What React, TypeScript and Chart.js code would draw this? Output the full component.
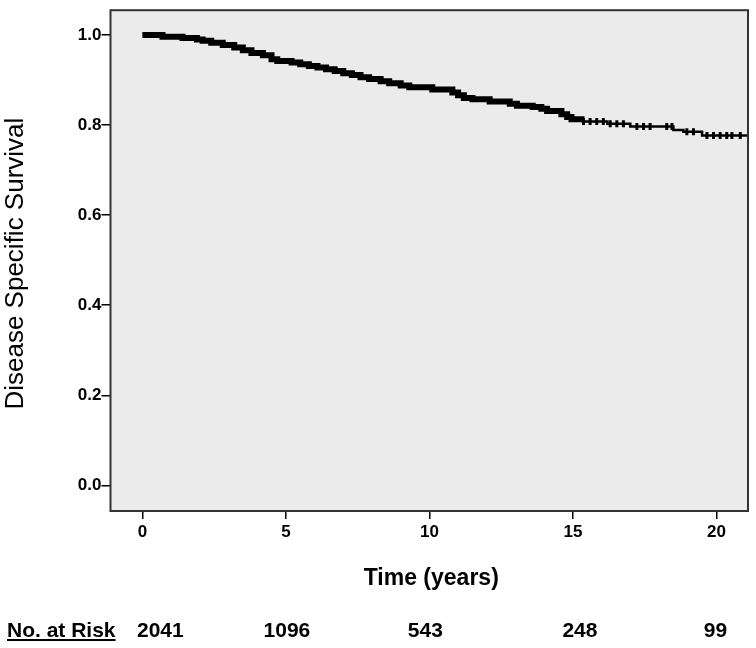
import { useEffect, useRef } from "react";
import { Chart, registerables } from "chart.js";

Chart.register(...registerables);

// Kaplan-Meier step points (time in years, survival after the drop)
const eventTimes = [
  0, 0.7, 1.4, 1.9, 2.1, 2.4, 2.8, 3.2, 3.5, 3.8, 4.2, 4.5, 4.7, 5.2, 5.5, 5.8,
  6.1, 6.4, 6.7, 7.0, 7.3, 7.6, 7.9, 8.3, 8.6, 9.0, 9.3, 10.1, 10.8, 11.0, 11.2,
  11.5, 12.1, 12.8, 13.05, 13.6, 13.9, 14.1, 14.6, 14.8, 14.95, 15.3, 16.2, 17.0,
  18.5, 18.85, 19.5, 21.1,
];
const eventSurvival = [
  1.0, 0.996, 0.993, 0.99, 0.987, 0.983, 0.978, 0.972, 0.966, 0.96, 0.955, 0.946,
  0.942, 0.939, 0.935, 0.931, 0.928, 0.924, 0.92, 0.915, 0.911, 0.906, 0.902,
  0.897, 0.893, 0.888, 0.884, 0.879, 0.872, 0.866, 0.86, 0.857, 0.852, 0.847,
  0.843, 0.84, 0.836, 0.831, 0.824, 0.818, 0.813, 0.808, 0.803, 0.797, 0.789,
  0.785, 0.777, 0.777,
];
// Censoring marks visible in the sparse tail
const censorTimes = [
  15.37, 15.6, 15.83, 16.06, 16.3, 16.53, 16.76, 17.23, 17.46, 17.69, 18.27,
  18.45, 18.97, 19.2, 19.67, 19.9, 20.13, 20.36, 20.54, 20.83,
];

const xTicks = [0, 5, 10, 15, 20];
const yTicks = [0, 0.2, 0.4, 0.6, 0.8, 1.0];
const riskTimes = [0, 5, 10, 15, 20];
const riskCounts = ["2041", "1096", "543", "248", "99"];

// text placement nudges for the risk row (pixels, style only)
const RISK_NUDGE = [18, 1, -4, 7, -1];

const FONT = "'Liberation Sans', Arial, sans-serif";

type Pt = { x: number; y: number; censor: boolean };

function buildPoints(): Pt[] {
  const pts: Pt[] = eventTimes.map((t, i) => ({ x: t, y: eventSurvival[i], censor: false }));
  censorTimes.forEach((c) => {
    let s = eventSurvival[0];
    for (let i = 0; i < eventTimes.length; i++) {
      if (eventTimes[i] <= c) s = eventSurvival[i];
    }
    pts.push({ x: c, y: s, censor: true });
  });
  pts.sort((a, b) => a.x - b.x);
  return pts;
}

const decor = {
  id: "decor",
  beforeDraw(chart: any) {
    const { ctx, chartArea: a } = chart;
    ctx.save();
    ctx.fillStyle = "#ebebeb";
    ctx.fillRect(a.left, a.top, a.right - a.left, a.bottom - a.top);
    ctx.restore();
  },
  afterDraw(chart: any) {
    const { ctx, chartArea: a } = chart;
    const xs = chart.scales.x;
    ctx.save();
    ctx.strokeStyle = "#333333";
    ctx.lineWidth = 2;
    ctx.strokeRect(a.left, a.top, a.right - a.left, a.bottom - a.top);

    ctx.fillStyle = "#000";
    // y title
    ctx.save();
    ctx.translate(16, (a.top + a.bottom) / 2 + 3);
    ctx.rotate(-Math.PI / 2);
    ctx.font = `26px ${FONT}`;
    ctx.textAlign = "center";
    ctx.textBaseline = "middle";
    ctx.fillText("Disease Specific Survival", 0, 0);
    ctx.restore();

    // x title
    ctx.font = `bold 23px ${FONT}`;
    ctx.textAlign = "center";
    ctx.textBaseline = "alphabetic";
    ctx.fillText("Time (years)", (a.left + a.right) / 2 + 2, 585);

    // number at risk
    ctx.font = `bold 21px ${FONT}`;
    ctx.textAlign = "left";
    const label = "No. at Risk";
    ctx.fillText(label, 7, 637);
    const w = ctx.measureText(label).width;
    ctx.fillRect(7, 639, w, 2);
    ctx.textAlign = "center";
    riskTimes.forEach((t, i) => {
      ctx.fillText(riskCounts[i], xs.getPixelForValue(t) + RISK_NUDGE[i], 637);
    });
    ctx.restore();
  },
};

export default function App() {
  const ref = useRef<HTMLCanvasElement>(null);
  useEffect(() => {
    if (!ref.current) return;
    const pts = buildPoints();
    const chart = new Chart(ref.current, {
      type: "line",
      data: {
        datasets: [
          {
            data: pts as any,
            parsing: false as any,
            borderColor: "#000",
            backgroundColor: "#000",
            stepped: "before",
            borderWidth: 5,
            segment: {
              borderWidth: (c: any) => (c.p0.parsed.x < 15.3 ? 6 : 2.5),
            },
            pointStyle: "line",
            rotation: 90,
            pointRadius: (c: any) => (pts[c.dataIndex] && pts[c.dataIndex].censor ? 3.5 : 0),
            pointBorderWidth: 3,
            pointBorderColor: "#000",
            pointHoverRadius: 0,
          } as any,
        ],
      },
      options: {
        animation: false,
        responsive: false,
        devicePixelRatio: 1,
        layout: { padding: { top: 7.5, right: 8, left: 0, bottom: 0 } },
        plugins: { legend: { display: false }, tooltip: { enabled: false } },
        scales: {
          x: {
            type: "linear",
            min: -1.11,
            max: 21.1,
            afterBuildTicks: (s: any) => {
              s.ticks = xTicks.map((v) => ({ value: v }));
            },
            afterFit: (s: any) => {
              s.height = 137;
            },
            ticks: {
              color: "#000",
              font: { family: FONT, size: 17, weight: "bold" },
              padding: 3,
              maxRotation: 0,
              callback: (v: any) => String(v),
            },
            grid: { drawOnChartArea: false, drawTicks: true, tickLength: 8, color: "#000", lineWidth: 1.5 },
            border: { display: false },
          },
          y: {
            type: "linear",
            min: -0.057,
            max: 1.055,
            afterBuildTicks: (s: any) => {
              s.ticks = yTicks.map((v) => ({ value: v }));
            },
            afterFit: (s: any) => {
              s.width = 110.5;
            },
            ticks: {
              color: "#000",
              font: { family: FONT, size: 17, weight: "bold" },
              padding: 0,
              callback: (v: any) => Number(v).toFixed(1),
            },
            grid: { drawOnChartArea: false, drawTicks: true, tickLength: 9, color: "#000", lineWidth: 1.5 },
            border: { display: false },
          },
        },
      },
      plugins: [decor],
    });
    return () => chart.destroy();
  }, []);
  return (
    <div style={{ position: "fixed", left: 0, top: 0, width: 756, height: 648, background: "#fff" }}>
      <canvas ref={ref} width={756} height={648} style={{ width: 756, height: 648, display: "block" }} />
    </div>
  );
}
